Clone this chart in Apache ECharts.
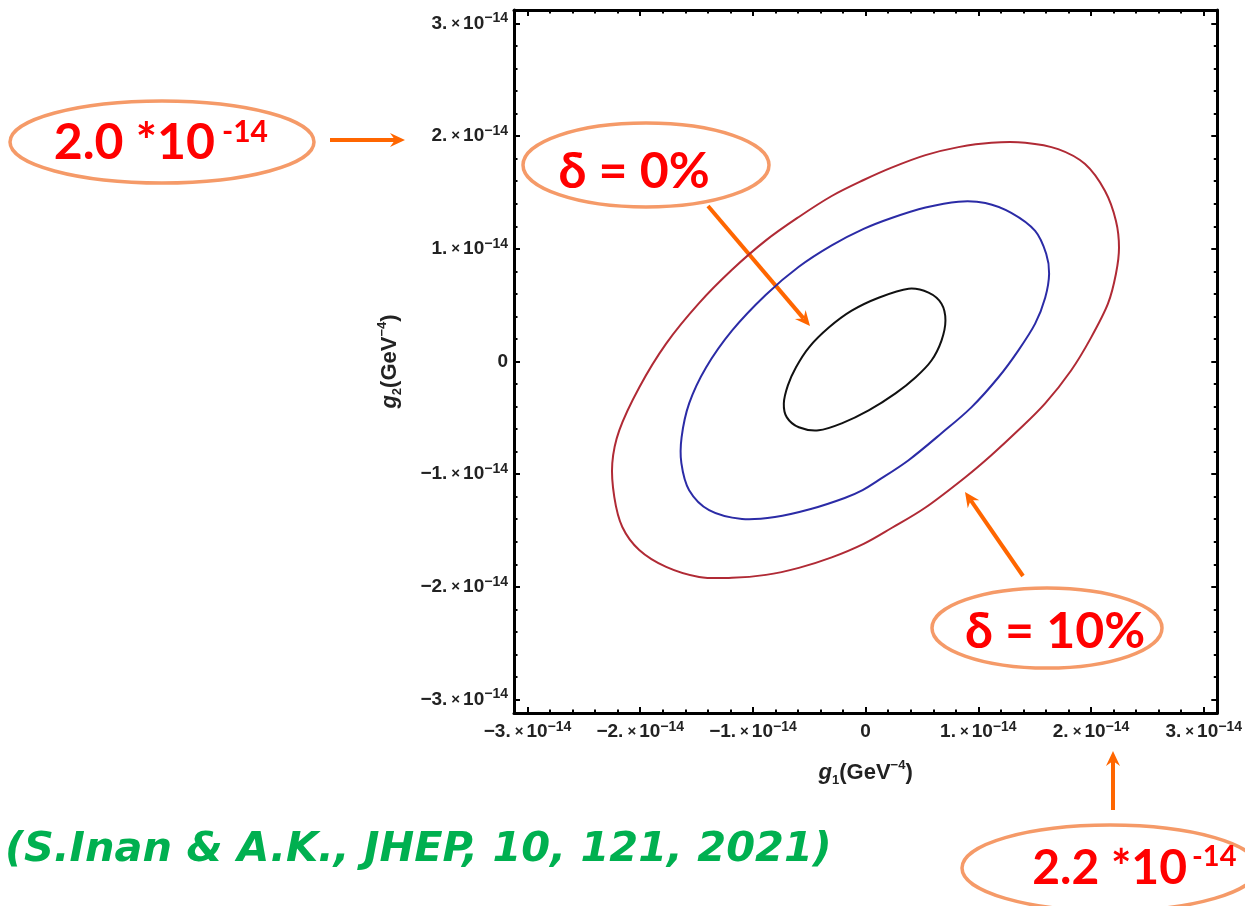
<!DOCTYPE html>
<html>
<head>
<meta charset="utf-8">
<script src="https://cdn.jsdelivr.net/npm/echarts@6/dist/echarts.min.js"></script>
<style>
html,body{margin:0;padding:0;background:#fff;}
#chart{width:1245px;height:906px;}
</style>
</head>
<body>
<div id="chart"></div>
<script>
// ---- data (all values in units of 1e-14 GeV^-4) ----
const axisMin = -3.12;
const axisMax = 3.12;
const majorTicks = [-3, -2, -1, 0, 1, 2, 3];
const minorTicks = [-3.0, -2.8, -2.6, -2.4, -2.2, -2.0, -1.8, -1.6, -1.4, -1.2, -1.0, -0.8, -0.6, -0.4, -0.2,
  0, 0.2, 0.4, 0.6, 0.8, 1.0, 1.2, 1.4, 1.6, 1.8, 2.0, 2.2, 2.4, 2.6, 2.8, 3.0];

// closed contours (last point joins back to first)
// delta = 0% (inner, black)
const contourBlack = [
  [-0.504, 0.124], [-0.327, 0.301], [-0.124, 0.451], [0.115, 0.566],
  [0.381, 0.646], [0.558, 0.611], [0.673, 0.513], [0.708, 0.363], [0.673, 0.186],
  [0.584, 0.009], [0.442, -0.142], [0.265, -0.283], [0.027, -0.434], [-0.212, -0.549],
  [-0.416, -0.611], [-0.593, -0.584], [-0.699, -0.496], [-0.726, -0.372], [-0.690, -0.212],
  [-0.619, -0.053]
];
// middle contour (blue)
const contourBlue = [
  [-1.186, 0.274], [-0.885, 0.593], [-0.593, 0.841], [-0.301, 1.031], [-0.018, 1.177], [0.230, 1.274],
  [0.531, 1.367], [0.823, 1.419], [1.062, 1.407], [1.292, 1.319], [1.504, 1.159],
  [1.602, 0.956], [1.628, 0.779], [1.593, 0.566], [1.504, 0.336], [1.354, 0.097],
  [1.177, -0.142], [0.938, -0.407], [0.673, -0.637], [0.381, -0.876], [0.115, -1.053],
  [-0.027, -1.142], [-0.186, -1.212], [-0.487, -1.310], [-0.805, -1.381], [-1.097, -1.398],
  [-1.389, -1.319], [-1.566, -1.142], [-1.635, -0.903], [-1.633, -0.673], [-1.566, -0.372],
  [-1.416, -0.053]
];
// delta = 10% (outer, red)
const contourRed = [
  [-1.186, 0.814], [-0.885, 1.075], [-0.593, 1.283], [-0.301, 1.469], [-0.018, 1.611],
  [0.230, 1.721], [0.531, 1.832], [0.823, 1.903], [1.115, 1.942], [1.416, 1.942],
  [1.708, 1.885], [1.947, 1.752], [2.124, 1.513], [2.221, 1.248], [2.248, 1.009],
  [2.221, 0.779], [2.150, 0.513], [2.000, 0.212], [1.823, -0.080], [1.593, -0.372],
  [1.354, -0.611], [1.115, -0.832], [0.885, -1.027], [0.531, -1.296], [0.230, -1.478],
  [-0.018, -1.619], [-0.301, -1.739], [-0.593, -1.832], [-0.885, -1.894], [-1.186, -1.920],
  [-1.478, -1.912], [-1.770, -1.823], [-2.009, -1.673], [-2.159, -1.469], [-2.230, -1.204],
  [-2.248, -0.903], [-2.186, -0.611], [-2.009, -0.230], [-1.770, 0.159], [-1.478, 0.518]
];

const xTitle = '{i|g}{sb|1}{n|(GeV}{sp|−4}{n|)}';
const yTitle = '{i|g}{sb|2}{n|(GeV}{sp|−4}{n|)}';
const citation = '(S.Inan & A.K., JHEP, 10, 121, 2021)';

// ---- presentation ----
const LABEL_FONT = 'Liberation Sans, Arial, sans-serif';
const tickRich = {
  m: {fontFamily: LABEL_FONT, fontWeight: 'bold', fontSize: 19, color: '#222', lineHeight: 24},
  x: {fontFamily: LABEL_FONT, fontWeight: 'bold', fontSize: 15, color: '#222', padding: [0, 3, 0, 4], lineHeight: 24},
  s: {fontFamily: LABEL_FONT, fontWeight: 'bold', fontSize: 14, color: '#222', verticalAlign: 'top', lineHeight: 12}
};
function tickFmt(v) {
  if (Math.abs(v) < 1e-9) return '{m|0}';
  const sign = v < 0 ? '−' : '';
  return '{m|' + sign + Math.abs(Math.round(v)) + '.}{x|×}{m|10}{s|−14}';
}
const titleRich = {
  i: {fontFamily: LABEL_FONT, fontStyle: 'italic', fontWeight: 'bold', fontSize: 22, color: '#222', lineHeight: 28},
  sb: {fontFamily: LABEL_FONT, fontWeight: 'bold', fontSize: 13, color: '#222', verticalAlign: 'bottom', lineHeight: 22},
  n: {fontFamily: LABEL_FONT, fontWeight: 'bold', fontSize: 22, color: '#222', lineHeight: 28},
  sp: {fontFamily: LABEL_FONT, fontWeight: 'bold', fontSize: 13, color: '#222', verticalAlign: 'top', lineHeight: 16}
};

const frameLine = {show: true, onZero: false, lineStyle: {color: '#000', width: 3}};
function axis(pos, opts) {
  const a = {
    type: 'value', position: pos, min: axisMin, max: axisMax,
    axisLine: opts.line ? frameLine : {show: false, onZero: false},
    axisTick: {show: true, inside: true, length: opts.major ? 6 : 3.5,
      customValues: opts.major ? majorTicks : minorTicks,
      lineStyle: {color: '#000', width: 2}},
    axisLabel: {show: false},
    splitLine: {show: false}
  };
  if (opts.labels) {
    a.axisLabel = {show: true, customValues: majorTicks, formatter: tickFmt, rich: tickRich, margin: opts.margin};
  }
  if (opts.name) {
    a.name = opts.name;
    a.nameLocation = 'middle';
    a.nameGap = opts.nameGap;
    a.nameTextStyle = {rich: titleRich};
  }
  return a;
}

// closed Catmull-Rom path through the projected contour points
function closedSplinePath(px) {
  const n = px.length;
  let d = 'M' + px[0][0].toFixed(2) + ' ' + px[0][1].toFixed(2);
  for (let i = 0; i < n; i++) {
    const p0 = px[(i - 1 + n) % n], p1 = px[i], p2 = px[(i + 1) % n], p3 = px[(i + 2) % n];
    const c1x = p1[0] + (p2[0] - p0[0]) / 6, c1y = p1[1] + (p2[1] - p0[1]) / 6;
    const c2x = p2[0] - (p3[0] - p1[0]) / 6, c2y = p2[1] - (p3[1] - p1[1]) / 6;
    d += ' C' + c1x.toFixed(2) + ' ' + c1y.toFixed(2) + ' ' + c2x.toFixed(2) + ' ' + c2y.toFixed(2) +
      ' ' + p2[0].toFixed(2) + ' ' + p2[1].toFixed(2);
  }
  return d + ' Z';
}
function contourSeries(name, pts, color) {
  return {
    type: 'custom', name: name, xAxisIndex: 0, yAxisIndex: 0, data: pts,
    encode: {x: 0, y: 1},
    renderItem: function (params, api) {
      if (params.dataIndex !== 0) return null;
      const px = pts.map(function (p) { return api.coord(p); });
      return {
        type: 'path',
        shape: {pathData: closedSplinePath(px)},
        style: {fill: 'none', stroke: color, lineWidth: 2}
      };
    }
  };
}

const ORANGE = '#FF6600';
const RING = '#F59A68';
function arrow(x1, y1, x2, y2) {
  const ang = Math.atan2(y2 - y1, x2 - x1);
  const L = 15, W = 7, N = 10;
  const c = Math.cos(ang), s = Math.sin(ang);
  const bx = x2 - L * c, by = y2 - L * s;
  const nx = x2 - N * c, ny = y2 - N * s;
  return [
    {type: 'line', shape: {x1: x1, y1: y1, x2: nx, y2: ny}, style: {stroke: ORANGE, lineWidth: 4}},
    {type: 'polygon', shape: {points: [[x2, y2], [bx - W * s, by + W * c], [nx, ny], [bx + W * s, by - W * c]]},
      style: {fill: ORANGE}}
  ];
}
function ring(cx, cy, rx, ry) {
  return {type: 'ellipse', shape: {cx: cx, cy: cy, rx: rx, ry: ry}, style: {fill: 'none', stroke: RING, lineWidth: 3.5}};
}
const ANN_FONT = 'Lato, "Open Sans", "DejaVu Sans", sans-serif';
function txt(str, x, y, size, align) {
  return {type: 'text', x: x, y: y, style: {text: str, fontFamily: ANN_FONT, fontWeight: 'bold', fontSize: size,
    fill: '#FF0000', align: align, verticalAlign: 'middle'}};
}

const graphics = [].concat(
  [ring(162, 142, 152, 41), txt('2.0 *10', 215, 143, 50, 'right'), txt('-14', 222, 132, 30, 'left')],
  arrow(330, 140, 405, 140),
  [ring(646, 165, 123, 42), txt('δ = 0%', 634, 172, 50, 'center')],
  arrow(708, 206, 810, 326),
  [ring(1047, 628, 115, 40), txt('δ = 10%', 1055, 632, 50, 'center')],
  arrow(1023, 576, 965, 492),
  [ring(1110, 868, 148, 43), txt('2.2 *10', 1187, 869, 48, 'right'), txt('-14', 1192, 857, 29, 'left')],
  arrow(1113, 810, 1113, 751),
  [{type: 'text', x: 5, y: 850, style: {text: citation, fontFamily: '"DejaVu Sans", sans-serif', fontWeight: 'bold',
    fontStyle: 'italic', fontSize: 41.5, fill: '#00B050', align: 'left', verticalAlign: 'middle'}}]
);

const chart = echarts.init(document.getElementById('chart'), null, {renderer: 'canvas'});
chart.setOption({
  animation: false,
  backgroundColor: '#fff',
  grid: {left: 514, right: 26, top: 10, bottom: 193, containLabel: false},
  xAxis: [
    axis('bottom', {line: true, major: true, labels: true, margin: 7, name: xTitle, nameGap: 46}),
    axis('top', {line: true, major: true}),
    axis('bottom', {major: false}),
    axis('top', {major: false})
  ],
  yAxis: [
    axis('left', {line: true, major: true, labels: true, margin: 6, name: yTitle, nameGap: 110}),
    axis('right', {line: true, major: true}),
    axis('left', {major: false}),
    axis('right', {major: false})
  ],
  series: [
    contourSeries('outer', contourRed, '#B02A35'),
    contourSeries('middle', contourBlue, '#2B2BA6'),
    contourSeries('inner', contourBlack, '#111')
  ],
  graphic: graphics
});
</script>
</body>
</html>
